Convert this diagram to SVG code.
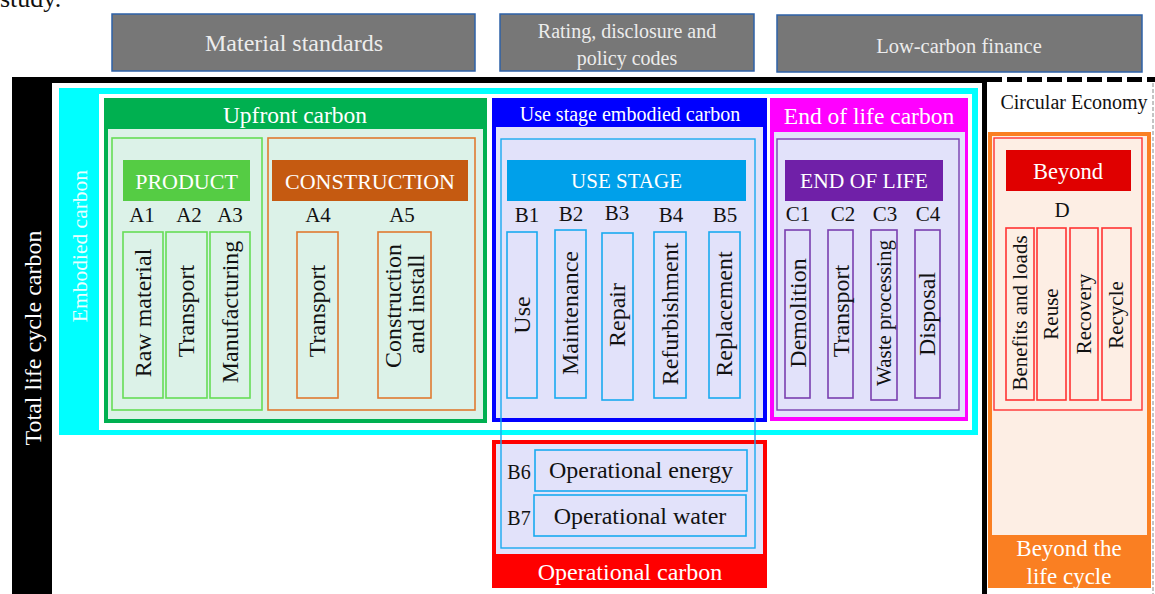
<svg xmlns="http://www.w3.org/2000/svg" width="1155" height="594" viewBox="0 0 1155 594">
  <style>
    text { font-family: "Liberation Serif", "DejaVu Serif", serif; text-anchor: middle; dominant-baseline: central; }
    .w { fill: #ffffff; }
    .g { fill: #ececec; }
    .k { fill: #111111; }
    .top { fill: #777777; stroke: #2e62a8; stroke-width: 1.5; }
    .sub { fill: none; stroke-width: 1.6; }
    .v { font-size: 24px; }
    .vs { font-size: 21px; }
  </style>

  <!-- trailing caption text above the figure -->
  <text x="0" y="-2" class="k" font-size="26" style="text-anchor:start">study.</text>

  <!-- policy / market bars -->
  <g id="material-standards">
    <rect class="top" x="112" y="14" width="363" height="57"/>
    <text class="g" x="294" y="43" font-size="24">Material standards</text>
  </g>
  <g id="rating-codes">
    <rect class="top" x="500" y="14" width="254" height="57"/>
    <text class="g" x="627" y="31" font-size="20">Rating, disclosure and</text>
    <text class="g" x="627" y="58" font-size="20">policy codes</text>
  </g>
  <g id="low-carbon-finance">
    <rect class="top" x="777" y="15" width="365" height="57"/>
    <text class="g" x="959" y="46" font-size="20.5">Low-carbon finance</text>
  </g>

  <!-- total life cycle frame -->
  <g id="total-life-cycle">
    <rect x="12" y="77" width="40" height="517" fill="#000"/>
    <rect x="12" y="77" width="975" height="6" fill="#000"/>
    <rect x="982" y="77" width="5" height="517" fill="#000"/>
    <text class="w" font-size="24" transform="translate(33 338) rotate(-90)">Total life cycle carbon</text>
  </g>

  <!-- circular economy frame (dashed) -->
  <g id="circular-economy">
    <line x1="987" y1="79.5" x2="1155" y2="79.5" stroke="#000" stroke-width="5" stroke-dasharray="15 5"/>
    <line x1="1153" y1="83" x2="1153" y2="594" stroke="#888" stroke-width="1" stroke-dasharray="4 2"/>
    <text class="k" x="1074" y="102" font-size="20">Circular Economy</text>
  </g>

  <!-- embodied carbon frame -->
  <g id="embodied-carbon">
    <rect x="59" y="88" width="919" height="347" fill="#00ffff"/>
    <rect x="99" y="94" width="873" height="336" fill="#ffffff"/>
    <text fill="#e8ffff" font-size="21.5" transform="translate(80 246) rotate(-90)">Embodied carbon</text>
  </g>

  <!-- upfront carbon: A1-A5 -->
  <g id="upfront-carbon">
    <rect x="104" y="98" width="383" height="325" fill="#00b050"/>
    <rect x="108" y="129" width="375" height="290" fill="#dcf2e8"/>
    <text class="w" x="295" y="115" font-size="23.5">Upfront carbon</text>
  </g>
  <g id="product">
    <rect x="112" y="138" width="150" height="272" fill="none" stroke="#66dd55" stroke-width="1.6"/>
    <rect x="123" y="160" width="127" height="41" fill="#55cc44"/>
    <text class="w" x="186.5" y="181" font-size="22">PRODUCT</text>
    <text class="k" x="142" y="215" font-size="21">A1</text>
    <text class="k" x="189" y="215" font-size="21">A2</text>
    <text class="k" x="230" y="215" font-size="21">A3</text>
    <g class="sub" stroke="#66dd55">
      <rect x="123" y="232" width="40" height="166"/>
      <rect x="166" y="232" width="41" height="166"/>
      <rect x="210" y="232" width="40" height="166"/>
    </g>
    <text class="k v" transform="translate(143 313) rotate(-90)">Raw material</text>
    <text class="k v" transform="translate(186 311) rotate(-90)">Transport</text>
    <text class="k v" transform="translate(230 312) rotate(-90)">Manufacturing</text>
  </g>
  <g id="construction">
    <rect x="268" y="138" width="207" height="272" fill="none" stroke="#e07a30" stroke-width="1.6"/>
    <rect x="272" y="160" width="196" height="41" fill="#c55a11"/>
    <text class="w" x="370" y="181" font-size="22">CONSTRUCTION</text>
    <text class="k" x="318" y="215" font-size="21">A4</text>
    <text class="k" x="402" y="215" font-size="21">A5</text>
    <g class="sub" stroke="#e07a30">
      <rect x="297" y="232" width="41" height="166"/>
      <rect x="378" y="232" width="53" height="166"/>
    </g>
    <text class="k v" transform="translate(317 311) rotate(-90)">Transport</text>
    <text class="k v" transform="translate(393 306) rotate(-90)">Construction</text>
    <text class="k v" transform="translate(416 304) rotate(-90)">and install</text>
  </g>

  <!-- use stage embodied carbon: B1-B5 -->
  <g id="use-stage-embodied">
    <rect x="492" y="98" width="275" height="324" fill="#0000ff"/>
    <rect x="496" y="127" width="267" height="291" fill="#e2e2fa"/>
    <text class="w" x="630" y="114" font-size="20">Use stage embodied carbon</text>
  </g>

  <!-- operational carbon: B6-B7 -->
  <g id="operational-carbon">
    <rect x="492" y="440" width="275" height="148" fill="#ff0000"/>
    <rect x="496" y="444" width="267" height="110" fill="#e2e2fa"/>
    <text class="w" x="630" y="572" font-size="24">Operational carbon</text>
    <text class="k" x="519" y="472" font-size="20">B6</text>
    <text class="k" x="519" y="518" font-size="20">B7</text>
    <g class="sub" stroke="#1aaaf0">
      <rect x="535" y="450" width="212" height="41"/>
      <rect x="534" y="495" width="212" height="41"/>
    </g>
    <text class="k" x="641" y="470" font-size="24">Operational energy</text>
    <text class="k" x="640" y="516" font-size="24">Operational water</text>
  </g>

  <g id="use-stage">
    <rect x="501" y="139" width="254" height="409" fill="none" stroke="#1aaaf0" stroke-width="1.4"/>
    <rect x="507" y="160" width="239" height="41" fill="#00a0ea"/>
    <text class="w" x="626.5" y="181" font-size="21">USE STAGE</text>
    <text class="k" x="527" y="215" font-size="21">B1</text>
    <text class="k" x="571" y="214" font-size="21">B2</text>
    <text class="k" x="617" y="213" font-size="21">B3</text>
    <text class="k" x="671" y="215" font-size="21">B4</text>
    <text class="k" x="725" y="215" font-size="21">B5</text>
    <g class="sub" stroke="#1aaaf0">
      <rect x="507" y="232" width="30" height="166"/>
      <rect x="555" y="230" width="31" height="168"/>
      <rect x="602" y="233" width="31" height="167"/>
      <rect x="654" y="232" width="32" height="166"/>
      <rect x="709" y="232" width="31" height="166"/>
    </g>
    <text class="k v" transform="translate(522 315) rotate(-90)">Use</text>
    <text class="k v" transform="translate(570 313) rotate(-90)">Maintenance</text>
    <text class="k v" transform="translate(617 315) rotate(-90)">Repair</text>
    <text class="k v" transform="translate(670 314) rotate(-90)">Refurbishment</text>
    <text class="k v" transform="translate(724 314) rotate(-90)">Replacement</text>
  </g>

  <!-- end of life carbon: C1-C4 -->
  <g id="end-of-life-carbon">
    <rect x="770" y="98" width="198" height="323" fill="#ff00ff"/>
    <rect x="774" y="132" width="191" height="285" fill="#e2e2fa"/>
    <text class="w" x="869" y="116" font-size="23.5">End of life carbon</text>
  </g>
  <g id="end-of-life">
    <rect x="777" y="139" width="182" height="271" fill="none" stroke="#7a3fb0" stroke-width="1.4"/>
    <rect x="785" y="160" width="158" height="41" fill="#7020a8"/>
    <text class="w" x="864" y="181" font-size="21.5">END OF LIFE</text>
    <text class="k" x="798" y="214" font-size="21">C1</text>
    <text class="k" x="843" y="214" font-size="21">C2</text>
    <text class="k" x="885" y="214" font-size="21">C3</text>
    <text class="k" x="928" y="214" font-size="21">C4</text>
    <g class="sub" stroke="#7a3fb0">
      <rect x="785" y="230" width="25" height="168"/>
      <rect x="828" y="230" width="25" height="168"/>
      <rect x="871" y="230" width="26" height="170"/>
      <rect x="915" y="230" width="25" height="168"/>
    </g>
    <text class="k v" transform="translate(798 313) rotate(-90)">Demolition</text>
    <text class="k v" transform="translate(841 311) rotate(-90)">Transport</text>
    <text class="k vs" transform="translate(884 313) rotate(-90)">Waste processing</text>
    <text class="k v" transform="translate(927 314) rotate(-90)">Disposal</text>
  </g>

  <!-- beyond the life cycle: D -->
  <g id="beyond-life-cycle">
    <rect x="988" y="132" width="163" height="456" fill="#fa7f22"/>
    <rect x="992" y="136" width="155" height="399" fill="#fdeee4"/>
    <text class="w" x="1069" y="548" font-size="23">Beyond the</text>
    <text class="w" x="1069" y="576" font-size="23">life cycle</text>
  </g>
  <g id="beyond">
    <rect x="994" y="138" width="148" height="272" fill="none" stroke="#ff3333" stroke-width="1.4"/>
    <rect x="1006" y="150" width="125" height="41" fill="#e00000"/>
    <text class="w" x="1068" y="171" font-size="22.5">Beyond</text>
    <text class="k" x="1062" y="210" font-size="21">D</text>
    <g class="sub" stroke="#ff3333">
      <rect x="1006" y="228" width="28" height="172"/>
      <rect x="1037" y="228" width="29" height="172"/>
      <rect x="1070" y="228" width="28" height="172"/>
      <rect x="1102" y="228" width="29" height="172"/>
    </g>
    <text class="k vs" transform="translate(1020 313) rotate(-90)">Benefits and loads</text>
    <text class="k vs" transform="translate(1051 314) rotate(-90)">Reuse</text>
    <text class="k vs" transform="translate(1084 314) rotate(-90)">Recovery</text>
    <text class="k vs" transform="translate(1116 315) rotate(-90)">Recycle</text>
  </g>
</svg>
